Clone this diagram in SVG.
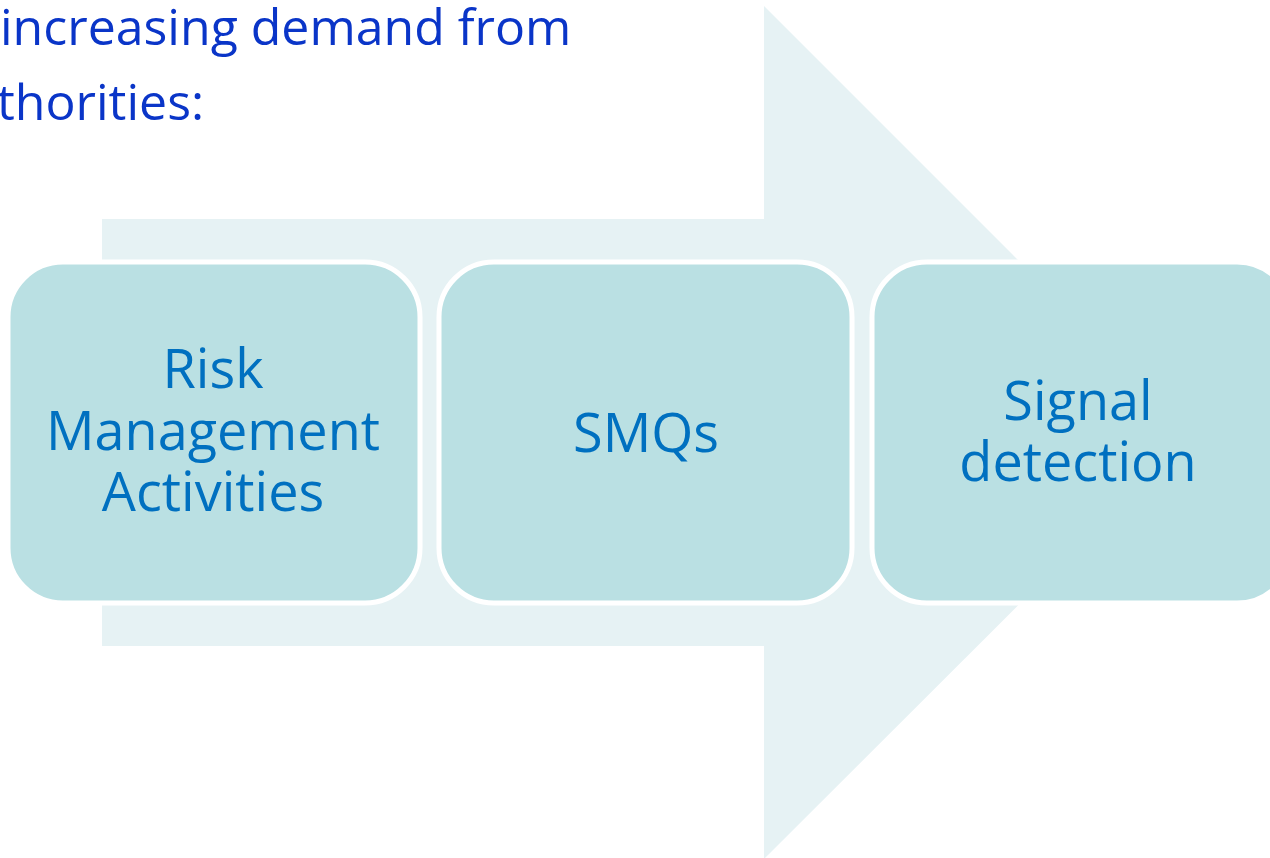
<svg xmlns="http://www.w3.org/2000/svg" width="1270" height="858" viewBox="0 0 1270 858">
<style>
.title{font-family:"Open Sans","DejaVu Sans",sans-serif;font-size:50px;fill:#0a35c8}
.box{fill:#bae0e3;stroke:#ffffff;stroke-width:5}
.lbl{font-family:"Open Sans","DejaVu Sans",sans-serif;font-size:54px;fill:#0070c0;text-anchor:middle}
</style>
<rect width="1270" height="858" fill="#ffffff"/>
<g id="title">
<text class="title" x="0" y="45">increasing demand from</text>
<text class="title" x="-3" y="120">thorities:</text>
</g>
<g id="arrow">
<polygon points="102,219 764,219 764,6 1191,433 764,859 764,646 102,646" fill="#e6f2f4"/>
</g>
<g id="node1">
<rect class="box" x="8" y="262" width="412" height="341" rx="55"/>
<text class="lbl" x="213" y="388">Risk</text>
<text class="lbl" x="213" y="450">Management</text>
<text class="lbl" x="213" y="511">Activities</text>
</g>
<g id="node2">
<rect class="box" x="439" y="262" width="413" height="341" rx="55"/>
<text class="lbl" x="646" y="452">SMQs</text>
</g>
<g id="node3">
<rect class="box" x="872" y="262" width="420" height="341" rx="55"/>
<text class="lbl" x="1078" y="420">Signal</text>
<text class="lbl" x="1078" y="481">detection</text>
</g>
<g id="connectors"></g>
</svg>
